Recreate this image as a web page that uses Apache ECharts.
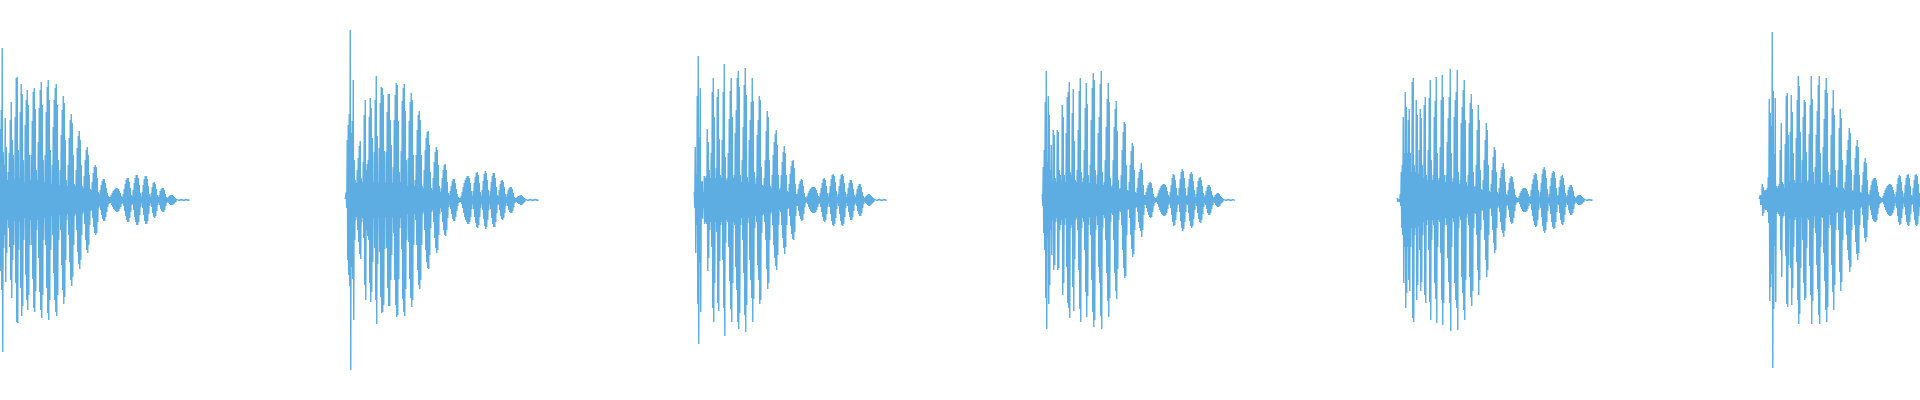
<!DOCTYPE html>
<html>
<head>
<meta charset="utf-8">
<style>
  html, body { margin: 0; padding: 0; background: #ffffff; }
  #chart { width: 1920px; height: 400px; }
</style>
<script src="https://cdn.jsdelivr.net/npm/echarts@6/dist/echarts.min.js"></script>
</head>
<body>
<div id="chart"></div>
<script>
// Start position (time units) of each sound burst
const burstStarts = [0, 345, 694, 1042, 1397, 1759];

// Peak amplitude per time step for each burst
const burst1 = [
  71,90,152,48,35,82,53,20,28,47,
  80,98,60,45,21,83,122,123,50,22,
  88,116,106,40,18,75,100,110,95,45,
  20,45,79,108,112,91,30,20,58,92,
  110,118,95,40,18,45,88,113,120,100,
  50,16,35,73,100,112,116,95,40,15,
  30,65,90,104,97,60,20,14,35,62,
  80,86,77,45,16,14,30,52,64,69,
  60,35,14,12,24,40,50,53,45,25,
  11,10,18,27,33,35,33,22,8,6,
  10,15,19,21,21,17,12,7,4,3,
  3,5,7,9,10,11,12,12,11,9,
  7,4,3,6,11,16,20,22,22,18,
  12,5,4,10,17,22,25,25,22,15,
  7,3,8,15,21,24,24,21,14,6,
  3,7,13,17,18,16,11,5,3,5,
  9,11,12,12,10,6,3,2,3,4,
  5,5,5,4,3,2,1,0.5,0.5,0.5,
  0.5,0.5,0.5,0.5,0.5,0.5,0.5,0.5,0.5,0.5
];
const burst2 = [
  1,8,60,75,86,170,67,79,120,40,
  20,17,30,42,54,59,22,18,38,85,
  100,30,36,40,83,102,92,62,18,48,
  100,124,64,17,52,97,113,112,105,49,
  17,48,88,106,106,80,55,17,33,80,
  105,117,115,79,28,18,49,99,112,116,
  89,40,14,42,79,98,107,100,45,14,
  20,45,70,85,89,80,45,14,12,30,
  50,62,68,69,55,28,12,10,22,38,
  48,53,50,35,14,8,12,22,30,35,
  36,30,18,7,5,9,14,19,21,21,
  17,11,6,3,2,2,4,8,13,17,
  20,22,24,24,22,17,9,4,9,17,
  23,27,28,25,17,8,4,10,19,26,
  29,27,20,10,4,9,18,24,27,27,
  22,13,5,4,10,16,19,20,18,13,
  6,3,6,10,12,13,13,11,7,3,
  2,2,3,4,4,5,5,4,3,2,
  1,0.5,0.5,0.5,0.5,0.5,0.5,0.5,0.5,0.5,
  0.5,0.5,0.5,0.5
];
const burst3 = [
  8,53,25,104,144,63,112,18,19,8,
  24,22,24,71,58,30,22,47,108,122,
  83,22,32,103,111,61,25,22,60,108,
  136,43,20,22,47,81,109,122,83,22,
  25,67,90,122,129,113,25,18,40,73,
  115,132,105,23,18,60,80,98,122,99,
  28,16,22,65,80,104,100,33,15,14,
  22,40,69,89,83,40,14,12,25,45,
  58,66,70,55,25,10,12,25,38,48,
  54,47,25,9,8,16,26,34,39,40,
  32,16,6,6,11,16,19,21,20,14,
  7,3,2,4,7,9,11,12,13,13,
  13,12,10,7,4,3,7,12,17,21,
  22,20,14,7,3,7,14,21,25,26,
  24,18,9,3,6,14,21,25,26,24,
  17,8,3,6,12,17,20,20,17,11,
  5,3,6,11,14,16,16,13,8,4,
  2,3,4,5,6,6,5,4,3,2,
  1,0.5,0.5,0.5,0.5,0.5,0.5,0.5,0.5,0.5,
  0.5,0.5,0.5
];
const burst4 = [
  6,33,50,98,129,38,104,85,30,55,
  20,70,65,22,18,70,68,30,25,20,
  95,83,25,18,67,103,108,118,28,25,
  87,111,59,20,18,30,70,109,122,28,
  18,22,50,92,117,96,25,17,35,80,
  112,127,120,30,16,25,67,83,116,129,
  28,15,18,40,73,101,117,98,22,13,
  15,40,73,91,99,69,20,11,12,25,
  50,68,78,76,35,10,9,18,35,49,
  57,54,30,8,7,12,22,28,31,37,
  30,15,5,5,8,12,15,17,18,17,
  12,6,3,2,2,4,7,10,12,14,
  15,16,16,15,13,9,5,3,8,15,
  22,26,25,20,12,5,4,12,21,28,
  31,29,22,12,4,5,13,21,26,28,
  26,19,10,3,6,13,19,22,23,20,
  14,7,3,5,9,13,15,15,13,9,
  5,2,3,5,6,7,7,6,4,3,
  2,1,0.5,0.5,0.5,0.5,0.5,0.5,0.5,0.5,
  0.5,0.5,0.5
];
const burst5 = [
  2,1,2,6,28,35,83,47,108,93,
  47,80,91,47,28,118,122,35,28,100,
  85,26,50,91,82,35,22,95,103,25,
  20,50,102,120,40,20,25,83,99,123,
  47,20,22,53,100,125,103,25,18,25,
  58,82,103,131,47,18,22,83,100,108,
  130,28,16,20,77,93,110,120,80,18,
  14,25,77,97,106,91,28,13,14,35,
  70,95,80,30,11,10,20,40,60,77,
  70,35,9,8,16,30,43,53,50,28,
  8,6,12,22,30,33,37,31,18,6,
  5,10,17,22,24,23,18,11,5,3,
  2,2,4,7,9,11,12,12,12,11,
  9,6,3,4,10,16,21,25,27,26,
  20,10,3,8,17,26,31,33,30,22,
  11,3,6,14,22,27,29,28,22,12,
  4,5,13,20,24,25,22,15,7,3,
  5,10,13,15,15,13,9,4,2,3,
  4,5,5,5,4,3,2,1,0.5,0.5,
  0.5,0.5,0.5,0.5,0.5,0.5
];
const burst6 = [
  1,5,5,16,13,9,10,10,12,23,
  101,87,74,168,109,46,102,14,12,14,
  16,50,77,18,16,12,56,104,107,65,
  18,68,105,88,47,20,17,62,100,124,
  114,68,17,40,83,100,98,48,18,20,
  66,95,124,101,28,16,33,65,89,115,
  124,47,17,18,53,81,110,122,107,28,
  15,25,65,92,110,85,30,13,12,30,
  72,91,82,40,12,10,18,35,50,60,
  72,67,30,9,10,25,42,54,60,53,
  25,8,7,15,28,38,42,37,20,6,
  5,10,15,19,21,22,22,20,14,8,
  4,3,2,2,4,7,10,12,14,15,
  16,16,15,13,10,6,3,8,16,22,
  25,24,18,9,3,7,15,22,25,26,
  22,14,5,4,12,20,25,26,24,16,
  7,3
];

const bursts = [burst1, burst2, burst3, burst4, burst5, burst6];

const series = bursts.map((amps, i) => {
  const pts = [];
  amps.forEach((a, j) => {
    const t = burstStarts[i] + j;
    pts.push([t + 0.25, a]);
    pts.push([t + 0.75, -a]);
  });
  return {
    type: 'line',
    name: 'burst' + (i + 1),
    data: pts,
    showSymbol: false,
    symbol: 'none',
    silent: true,
    sampling: null,
    lineStyle: { color: '#5dade2', width: 1.4, join: 'bevel' },
    emphasis: { disabled: true }
  };
});

const chart = echarts.init(document.getElementById('chart'), null, { renderer: 'canvas' });
chart.setOption({
  animation: false,
  backgroundColor: '#ffffff',
  grid: { left: 0, right: 0, top: 0, bottom: 0 },
  xAxis: { type: 'value', min: 0, max: 1920, show: false },
  yAxis: { type: 'value', min: -200, max: 200, show: false },
  tooltip: { show: false },
  series: series
});
</script>
</body>
</html>
